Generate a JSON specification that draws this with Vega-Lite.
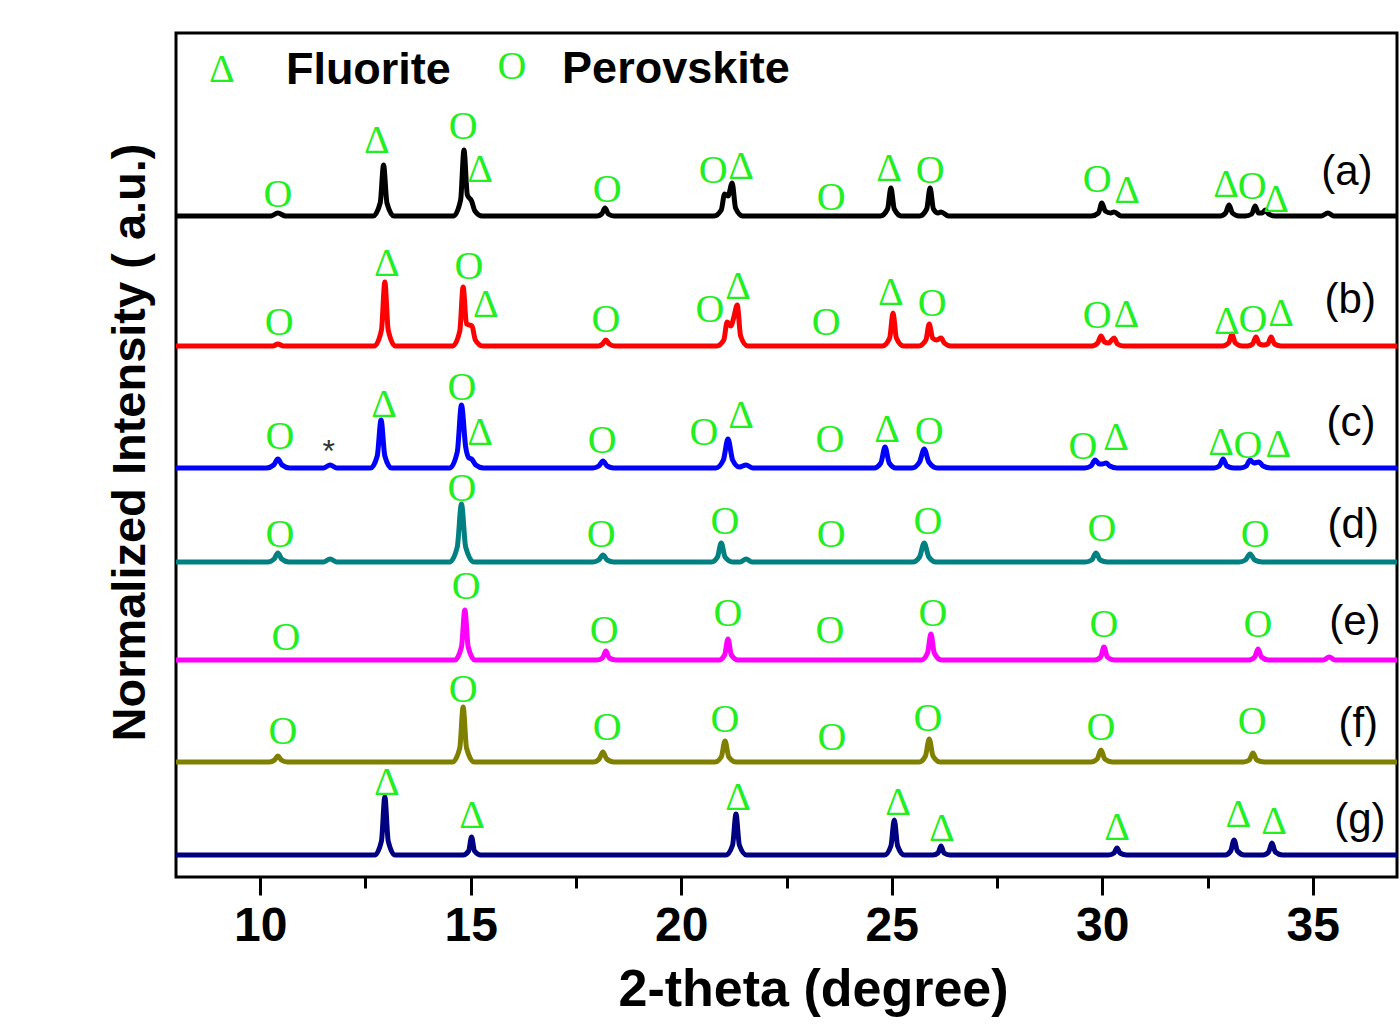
{
  "$schema": "https://vega.github.io/schema/vega-lite/v6.json",
  "autosize": {"type": "none"},
  "padding": {"left": 176, "top": 33, "right": 3, "bottom": 151},
  "width": 1221,
  "height": 844,
  "background": "white",
  "config": {
    "view": {"stroke": "black", "strokeWidth": 3},
    "font": "Liberation Sans"
  },
  "datasets": {
    "lines": [
      {"s":"a","x":8,"y":661},{"s":"a","x":10.25,"y":661},{"s":"a","x":10.42,"y":664},{"s":"a","x":10.6,"y":661},
      {"s":"a","x":12.68,"y":661},{"s":"a","x":12.85,"y":674},{"s":"a","x":12.93,"y":712},{"s":"a","x":13.01,"y":674},{"s":"a","x":13.18,"y":661},
      {"s":"a","x":14.59,"y":661},{"s":"a","x":14.76,"y":677},{"s":"a","x":14.84,"y":727},{"s":"a","x":14.92,"y":682},{"s":"a","x":15.02,"y":676},{"s":"a","x":15.1,"y":666},{"s":"a","x":15.27,"y":661},
      {"s":"a","x":18.0,"y":661},{"s":"a","x":18.11,"y":663},{"s":"a","x":18.19,"y":669},{"s":"a","x":18.27,"y":663},{"s":"a","x":18.4,"y":661},
      {"s":"a","x":20.78,"y":661},{"s":"a","x":20.95,"y":667},{"s":"a","x":21.03,"y":683},{"s":"a","x":21.11,"y":681},{"s":"a","x":21.21,"y":694},{"s":"a","x":21.29,"y":669},{"s":"a","x":21.46,"y":661},
      {"s":"a","x":24.73,"y":661},{"s":"a","x":24.9,"y":668},{"s":"a","x":24.98,"y":689},{"s":"a","x":25.06,"y":668},{"s":"a","x":25.23,"y":661},
      {"s":"a","x":25.66,"y":661},{"s":"a","x":25.83,"y":668},{"s":"a","x":25.91,"y":689},{"s":"a","x":25.99,"y":668},{"s":"a","x":26.1,"y":664},{"s":"a","x":26.17,"y":665},{"s":"a","x":26.35,"y":661},
      {"s":"a","x":29.74,"y":661},{"s":"a","x":29.91,"y":664},{"s":"a","x":29.99,"y":674},{"s":"a","x":30.07,"y":666},{"s":"a","x":30.2,"y":664},{"s":"a","x":30.28,"y":665},{"s":"a","x":30.45,"y":661},
      {"s":"a","x":32.8,"y":661},{"s":"a","x":32.93,"y":664},{"s":"a","x":33.01,"y":672},{"s":"a","x":33.09,"y":664},{"s":"a","x":33.25,"y":661},
      {"s":"a","x":33.4,"y":661},{"s":"a","x":33.55,"y":663},{"s":"a","x":33.63,"y":671},{"s":"a","x":33.71,"y":664},{"s":"a","x":33.8,"y":664},{"s":"a","x":33.87,"y":667},{"s":"a","x":33.95,"y":663},{"s":"a","x":34.1,"y":661},
      {"s":"a","x":35.2,"y":661},{"s":"a","x":35.36,"y":664},{"s":"a","x":35.5,"y":661},{"s":"a","x":37,"y":661},

      {"s":"b","x":8,"y":531},{"s":"b","x":10.3,"y":531},{"s":"b","x":10.42,"y":533},{"s":"b","x":10.55,"y":531},
      {"s":"b","x":12.71,"y":531},{"s":"b","x":12.88,"y":547},{"s":"b","x":12.96,"y":595},{"s":"b","x":13.04,"y":547},{"s":"b","x":13.21,"y":531},
      {"s":"b","x":14.57,"y":531},{"s":"b","x":14.74,"y":546},{"s":"b","x":14.82,"y":590},{"s":"b","x":14.9,"y":553},{"s":"b","x":14.97,"y":552},{"s":"b","x":15.03,"y":551},{"s":"b","x":15.11,"y":537},{"s":"b","x":15.28,"y":531},
      {"s":"b","x":18.03,"y":531},{"s":"b","x":18.13,"y":533},{"s":"b","x":18.21,"y":537},{"s":"b","x":18.29,"y":533},{"s":"b","x":18.42,"y":531},
      {"s":"b","x":20.84,"y":531},{"s":"b","x":21.01,"y":537},{"s":"b","x":21.09,"y":555},{"s":"b","x":21.18,"y":551},{"s":"b","x":21.25,"y":560},{"s":"b","x":21.33,"y":572},{"s":"b","x":21.41,"y":541},{"s":"b","x":21.58,"y":531},
      {"s":"b","x":24.78,"y":531},{"s":"b","x":24.95,"y":539},{"s":"b","x":25.03,"y":564},{"s":"b","x":25.11,"y":539},{"s":"b","x":25.28,"y":531},
      {"s":"b","x":25.64,"y":531},{"s":"b","x":25.81,"y":537},{"s":"b","x":25.89,"y":553},{"s":"b","x":25.97,"y":539},{"s":"b","x":26.07,"y":537},{"s":"b","x":26.17,"y":539},{"s":"b","x":26.25,"y":534},{"s":"b","x":26.4,"y":531},
      {"s":"b","x":29.75,"y":531},{"s":"b","x":29.89,"y":534},{"s":"b","x":29.97,"y":541},{"s":"b","x":30.05,"y":535},{"s":"b","x":30.15,"y":534},{"s":"b","x":30.28,"y":539},{"s":"b","x":30.36,"y":533},{"s":"b","x":30.5,"y":531},
      {"s":"b","x":32.85,"y":531},{"s":"b","x":33.0,"y":534},{"s":"b","x":33.08,"y":543},{"s":"b","x":33.16,"y":534},{"s":"b","x":33.32,"y":531},
      {"s":"b","x":33.45,"y":531},{"s":"b","x":33.57,"y":533},{"s":"b","x":33.65,"y":540},{"s":"b","x":33.73,"y":533},{"s":"b","x":33.83,"y":532},{"s":"b","x":33.93,"y":533},{"s":"b","x":34.01,"y":540},{"s":"b","x":34.09,"y":533},{"s":"b","x":34.25,"y":531},
      {"s":"b","x":37,"y":531},

      {"s":"c","x":8,"y":409},{"s":"c","x":10.15,"y":409},{"s":"c","x":10.32,"y":412},{"s":"c","x":10.42,"y":418},{"s":"c","x":10.52,"y":412},{"s":"c","x":10.7,"y":409},
      {"s":"c","x":11.5,"y":409},{"s":"c","x":11.66,"y":412},{"s":"c","x":11.82,"y":409},
      {"s":"c","x":12.62,"y":409},{"s":"c","x":12.78,"y":421},{"s":"c","x":12.87,"y":457},{"s":"c","x":12.96,"y":421},{"s":"c","x":13.12,"y":409},
      {"s":"c","x":14.5,"y":409},{"s":"c","x":14.68,"y":425},{"s":"c","x":14.78,"y":472},{"s":"c","x":14.88,"y":430},{"s":"c","x":14.96,"y":419},{"s":"c","x":15.02,"y":418},{"s":"c","x":15.12,"y":412},{"s":"c","x":15.3,"y":409},
      {"s":"c","x":17.9,"y":409},{"s":"c","x":18.04,"y":411},{"s":"c","x":18.14,"y":416},{"s":"c","x":18.24,"y":411},{"s":"c","x":18.4,"y":409},
      {"s":"c","x":20.82,"y":409},{"s":"c","x":21.0,"y":417},{"s":"c","x":21.11,"y":438},{"s":"c","x":21.22,"y":417},{"s":"c","x":21.38,"y":410},{"s":"c","x":21.54,"y":412},{"s":"c","x":21.7,"y":409},
      {"s":"c","x":24.58,"y":409},{"s":"c","x":24.74,"y":414},{"s":"c","x":24.84,"y":430},{"s":"c","x":24.94,"y":414},{"s":"c","x":25.1,"y":409},
      {"s":"c","x":25.48,"y":409},{"s":"c","x":25.66,"y":415},{"s":"c","x":25.77,"y":428},{"s":"c","x":25.88,"y":415},{"s":"c","x":26.08,"y":409},
      {"s":"c","x":29.58,"y":409},{"s":"c","x":29.73,"y":411},{"s":"c","x":29.83,"y":417},{"s":"c","x":29.93,"y":413},{"s":"c","x":30.0,"y":413},{"s":"c","x":30.09,"y":414},{"s":"c","x":30.18,"y":411},{"s":"c","x":30.35,"y":409},
      {"s":"c","x":32.65,"y":409},{"s":"c","x":32.78,"y":411},{"s":"c","x":32.87,"y":418},{"s":"c","x":32.96,"y":411},{"s":"c","x":33.12,"y":409},
      {"s":"c","x":33.28,"y":409},{"s":"c","x":33.42,"y":411},{"s":"c","x":33.51,"y":417},{"s":"c","x":33.6,"y":414},{"s":"c","x":33.72,"y":415},{"s":"c","x":33.82,"y":411},{"s":"c","x":34.0,"y":409},
      {"s":"c","x":37,"y":409},

      {"s":"d","x":8,"y":315},{"s":"d","x":10.18,"y":315},{"s":"d","x":10.33,"y":318},{"s":"d","x":10.42,"y":324},{"s":"d","x":10.51,"y":318},{"s":"d","x":10.68,"y":315},
      {"s":"d","x":11.5,"y":315},{"s":"d","x":11.66,"y":318},{"s":"d","x":11.82,"y":315},
      {"s":"d","x":14.5,"y":315},{"s":"d","x":14.68,"y":330},{"s":"d","x":14.78,"y":373},{"s":"d","x":14.88,"y":330},{"s":"d","x":15.08,"y":315},
      {"s":"d","x":17.9,"y":315},{"s":"d","x":18.04,"y":317},{"s":"d","x":18.14,"y":322},{"s":"d","x":18.24,"y":317},{"s":"d","x":18.4,"y":315},
      {"s":"d","x":20.72,"y":315},{"s":"d","x":20.86,"y":320},{"s":"d","x":20.95,"y":334},{"s":"d","x":21.04,"y":320},{"s":"d","x":21.22,"y":315},
      {"s":"d","x":21.4,"y":315},{"s":"d","x":21.54,"y":318},{"s":"d","x":21.68,"y":315},
      {"s":"d","x":25.5,"y":315},{"s":"d","x":25.66,"y":320},{"s":"d","x":25.77,"y":334},{"s":"d","x":25.88,"y":320},{"s":"d","x":26.05,"y":315},
      {"s":"d","x":29.6,"y":315},{"s":"d","x":29.75,"y":317},{"s":"d","x":29.85,"y":324},{"s":"d","x":29.95,"y":317},{"s":"d","x":30.12,"y":315},
      {"s":"d","x":33.25,"y":315},{"s":"d","x":33.4,"y":317},{"s":"d","x":33.51,"y":323},{"s":"d","x":33.62,"y":317},{"s":"d","x":33.8,"y":315},
      {"s":"d","x":37,"y":315},

      {"s":"e","x":8,"y":217},
      {"s":"e","x":14.62,"y":217},{"s":"e","x":14.78,"y":230},{"s":"e","x":14.86,"y":267},{"s":"e","x":14.94,"y":230},{"s":"e","x":15.1,"y":217},
      {"s":"e","x":18.0,"y":217},{"s":"e","x":18.13,"y":219},{"s":"e","x":18.21,"y":226},{"s":"e","x":18.29,"y":219},{"s":"e","x":18.45,"y":217},
      {"s":"e","x":20.9,"y":217},{"s":"e","x":21.03,"y":222},{"s":"e","x":21.11,"y":238},{"s":"e","x":21.19,"y":222},{"s":"e","x":21.35,"y":217},
      {"s":"e","x":25.7,"y":217},{"s":"e","x":25.85,"y":224},{"s":"e","x":25.93,"y":243},{"s":"e","x":26.01,"y":224},{"s":"e","x":26.18,"y":217},
      {"s":"e","x":29.82,"y":217},{"s":"e","x":29.96,"y":220},{"s":"e","x":30.04,"y":230},{"s":"e","x":30.12,"y":220},{"s":"e","x":30.28,"y":217},
      {"s":"e","x":33.48,"y":217},{"s":"e","x":33.62,"y":220},{"s":"e","x":33.7,"y":228},{"s":"e","x":33.78,"y":220},{"s":"e","x":33.95,"y":217},
      {"s":"e","x":35.25,"y":217},{"s":"e","x":35.39,"y":220},{"s":"e","x":35.53,"y":217},{"s":"e","x":37,"y":217},

      {"s":"f","x":8,"y":115},{"s":"f","x":10.22,"y":115},{"s":"f","x":10.34,"y":117},{"s":"f","x":10.42,"y":121},{"s":"f","x":10.5,"y":117},{"s":"f","x":10.65,"y":115},
      {"s":"f","x":14.57,"y":115},{"s":"f","x":14.74,"y":129},{"s":"f","x":14.82,"y":170},{"s":"f","x":14.9,"y":129},{"s":"f","x":15.08,"y":115},
      {"s":"f","x":17.92,"y":115},{"s":"f","x":18.05,"y":118},{"s":"f","x":18.14,"y":125},{"s":"f","x":18.23,"y":118},{"s":"f","x":18.4,"y":115},
      {"s":"f","x":20.8,"y":115},{"s":"f","x":20.95,"y":120},{"s":"f","x":21.04,"y":136},{"s":"f","x":21.13,"y":120},{"s":"f","x":21.3,"y":115},
      {"s":"f","x":25.65,"y":115},{"s":"f","x":25.8,"y":121},{"s":"f","x":25.89,"y":138},{"s":"f","x":25.98,"y":121},{"s":"f","x":26.15,"y":115},
      {"s":"f","x":29.73,"y":115},{"s":"f","x":29.88,"y":118},{"s":"f","x":29.97,"y":127},{"s":"f","x":30.06,"y":118},{"s":"f","x":30.25,"y":115},
      {"s":"f","x":33.35,"y":115},{"s":"f","x":33.49,"y":117},{"s":"f","x":33.58,"y":124},{"s":"f","x":33.67,"y":117},{"s":"f","x":33.85,"y":115},
      {"s":"f","x":37,"y":115},

      {"s":"g","x":8,"y":22},
      {"s":"g","x":12.72,"y":22},{"s":"g","x":12.88,"y":36},{"s":"g","x":12.96,"y":80},{"s":"g","x":13.04,"y":36},{"s":"g","x":13.2,"y":22},
      {"s":"g","x":14.82,"y":22},{"s":"g","x":14.95,"y":26},{"s":"g","x":15.02,"y":40},{"s":"g","x":15.09,"y":26},{"s":"g","x":15.24,"y":22},
      {"s":"g","x":21.06,"y":22},{"s":"g","x":21.22,"y":32},{"s":"g","x":21.3,"y":63},{"s":"g","x":21.38,"y":32},{"s":"g","x":21.55,"y":22},
      {"s":"g","x":24.83,"y":22},{"s":"g","x":24.98,"y":31},{"s":"g","x":25.06,"y":57},{"s":"g","x":25.14,"y":31},{"s":"g","x":25.3,"y":22},
      {"s":"g","x":25.98,"y":22},{"s":"g","x":26.1,"y":24},{"s":"g","x":26.17,"y":31},{"s":"g","x":26.24,"y":24},{"s":"g","x":26.38,"y":22},
      {"s":"g","x":30.15,"y":22},{"s":"g","x":30.28,"y":24},{"s":"g","x":30.35,"y":29},{"s":"g","x":30.42,"y":24},{"s":"g","x":30.58,"y":22},
      {"s":"g","x":32.92,"y":22},{"s":"g","x":33.05,"y":26},{"s":"g","x":33.13,"y":37},{"s":"g","x":33.21,"y":26},{"s":"g","x":33.38,"y":22},
      {"s":"g","x":33.82,"y":22},{"s":"g","x":33.95,"y":25},{"s":"g","x":34.03,"y":34},{"s":"g","x":34.11,"y":25},{"s":"g","x":34.28,"y":22},
      {"s":"g","x":37,"y":22}
    ],
    "syms": [
      {"x":9.09,"y":807,"m":"Δ"},{"x":15.98,"y":810,"m":"O"},
      {"x":10.42,"y":682,"m":"O"},{"x":12.77,"y":736,"m":"Δ"},{"x":14.82,"y":750,"m":"O"},{"x":15.22,"y":707,"m":"Δ"},{"x":18.24,"y":687,"m":"O"},{"x":20.76,"y":706,"m":"O"},{"x":21.42,"y":710,"m":"Δ"},{"x":23.56,"y":679,"m":"O"},{"x":24.94,"y":708,"m":"Δ"},{"x":25.91,"y":706,"m":"O"},{"x":29.88,"y":697,"m":"O"},{"x":30.59,"y":686,"m":"Δ"},{"x":32.94,"y":692,"m":"Δ"},{"x":33.56,"y":690,"m":"O"},{"x":34.13,"y":677,"m":"Δ"},
      {"x":10.45,"y":554,"m":"O"},{"x":13.01,"y":613,"m":"Δ"},{"x":14.96,"y":610,"m":"O"},{"x":15.36,"y":572,"m":"Δ"},{"x":18.21,"y":557,"m":"O"},{"x":20.68,"y":567,"m":"O"},{"x":21.35,"y":590,"m":"Δ"},{"x":23.44,"y":554,"m":"O"},{"x":24.98,"y":584,"m":"Δ"},{"x":25.96,"y":573,"m":"O"},{"x":29.88,"y":561,"m":"O"},{"x":30.57,"y":562,"m":"Δ"},{"x":32.96,"y":555,"m":"Δ"},{"x":33.58,"y":557,"m":"O"},{"x":34.25,"y":563,"m":"Δ"},
      {"x":10.47,"y":440,"m":"O"},{"x":12.94,"y":472,"m":"Δ"},{"x":14.79,"y":489,"m":"O"},{"x":15.22,"y":444,"m":"Δ"},{"x":18.12,"y":436,"m":"O"},{"x":20.54,"y":444,"m":"O"},{"x":21.42,"y":461,"m":"Δ"},{"x":23.53,"y":437,"m":"O"},{"x":24.89,"y":447,"m":"Δ"},{"x":25.89,"y":445,"m":"O"},{"x":29.54,"y":430,"m":"O"},{"x":30.33,"y":439,"m":"Δ"},{"x":32.82,"y":434,"m":"Δ"},{"x":33.46,"y":431,"m":"O"},{"x":34.18,"y":432,"m":"Δ"},
      {"x":10.47,"y":342,"m":"O"},{"x":14.79,"y":388,"m":"O"},{"x":18.1,"y":342,"m":"O"},{"x":21.04,"y":355,"m":"O"},{"x":23.56,"y":342,"m":"O"},{"x":25.86,"y":355,"m":"O"},{"x":29.99,"y":348,"m":"O"},{"x":33.63,"y":342,"m":"O"},
      {"x":10.61,"y":239,"m":"O"},{"x":14.89,"y":290,"m":"O"},{"x":18.17,"y":246,"m":"O"},{"x":21.11,"y":263,"m":"O"},{"x":23.53,"y":246,"m":"O"},{"x":25.98,"y":263,"m":"O"},{"x":30.04,"y":252,"m":"O"},{"x":33.7,"y":252,"m":"O"},
      {"x":10.54,"y":145,"m":"O"},{"x":14.82,"y":187,"m":"O"},{"x":18.24,"y":149,"m":"O"},{"x":21.04,"y":157,"m":"O"},{"x":23.58,"y":139,"m":"O"},{"x":25.86,"y":158,"m":"O"},{"x":29.97,"y":149,"m":"O"},{"x":33.56,"y":155,"m":"O"},
      {"x":13.01,"y":94,"m":"Δ"},{"x":15.03,"y":61,"m":"Δ"},{"x":21.35,"y":79,"m":"Δ"},{"x":25.15,"y":74,"m":"Δ"},{"x":26.19,"y":48,"m":"Δ"},{"x":30.35,"y":49,"m":"Δ"},{"x":33.23,"y":62,"m":"Δ"},{"x":34.08,"y":55,"m":"Δ"}
    ],
    "labels": [
      {"x":35.81,"y":705,"t":"(a)"},{"x":35.89,"y":577,"t":"(b)"},{"x":35.91,"y":454,"t":"(c)"},{"x":35.96,"y":352,"t":"(d)"},{"x":36.0,"y":255,"t":"(e)"},{"x":36.08,"y":153,"t":"(f)"},{"x":36.12,"y":57,"t":"(g)"}
    ],
    "legend": [
      {"x":10.61,"y":807,"t":"Fluorite"},{"x":17.17,"y":808,"t":"Perovskite"}
    ],
    "star": [
      {"x":11.63,"y":425,"t":"*"}
    ]
  },
  "layer": [
    {
      "data": {"name": "lines"},
      "mark": {"type": "line", "strokeWidth": 5, "clip": true, "interpolate": "monotone"},
      "encoding": {
        "x": {"field": "x", "type": "quantitative", "scale": {"domain": [8, 37], "nice": false, "zero": false},
          "axis": {
            "title": "2-theta (degree)",
            "values": [10, 12.5, 15, 17.5, 20, 22.5, 25, 27.5, 30, 32.5, 35],
            "labelExpr": "datum.value % 5 === 0 ? datum.label : ''",
            "grid": false, "domain": false,
            "tickColor": "black", "tickWidth": 3,
            "tickSize": {"condition": {"test": "datum.value % 5 !== 0", "value": 11}, "value": 18},
            "labelFont": "Liberation Sans", "labelFontWeight": "bold", "labelFontSize": 48, "labelColor": "black", "labelPadding": 7,
            "titleFont": "Liberation Sans", "titleFontWeight": "bold", "titleFontSize": 52, "titleColor": "black", "titlePadding": 14, "titleX": 637
          }},
        "y": {"field": "y", "type": "quantitative", "scale": {"domain": [0, 844], "nice": false, "zero": false},
          "axis": {
            "title": "Normalized Intensity ( a.u.)",
            "labels": false, "ticks": false, "domain": false, "grid": false,
            "titleFont": "Liberation Sans", "titleFontWeight": "bold", "titleFontSize": 47, "titleColor": "black", "titlePadding": 22, "titleY": 409
          }},
        "color": {"field": "s", "type": "nominal", "legend": null,
          "scale": {"domain": ["a","b","c","d","e","f","g"], "range": ["#000000","#ff0000","#0000ff","#008080","#ff00ff","#808000","#000080"]}},
        "detail": {"field": "s"}
      }
    },
    {
      "data": {"name": "syms"},
      "mark": {"type": "text", "font": "Liberation Serif", "fontSize": 40, "color": "#22ee22", "align": "center", "baseline": "middle"},
      "encoding": {
        "x": {"field": "x", "type": "quantitative"},
        "y": {"field": "y", "type": "quantitative"},
        "text": {"field": "m"}
      }
    },
    {
      "data": {"name": "labels"},
      "mark": {"type": "text", "font": "Liberation Sans", "fontSize": 42, "color": "black", "align": "center", "baseline": "middle"},
      "encoding": {
        "x": {"field": "x", "type": "quantitative"},
        "y": {"field": "y", "type": "quantitative"},
        "text": {"field": "t"}
      }
    },
    {
      "data": {"name": "legend"},
      "mark": {"type": "text", "font": "Liberation Sans", "fontSize": 45, "fontWeight": "bold", "color": "black", "align": "left", "baseline": "middle"},
      "encoding": {
        "x": {"field": "x", "type": "quantitative"},
        "y": {"field": "y", "type": "quantitative"},
        "text": {"field": "t"}
      }
    },
    {
      "data": {"name": "star"},
      "mark": {"type": "text", "font": "Liberation Sans", "fontSize": 32, "color": "#333333", "align": "center", "baseline": "middle"},
      "encoding": {
        "x": {"field": "x", "type": "quantitative"},
        "y": {"field": "y", "type": "quantitative"},
        "text": {"field": "t"}
      }
    }
  ]
}
